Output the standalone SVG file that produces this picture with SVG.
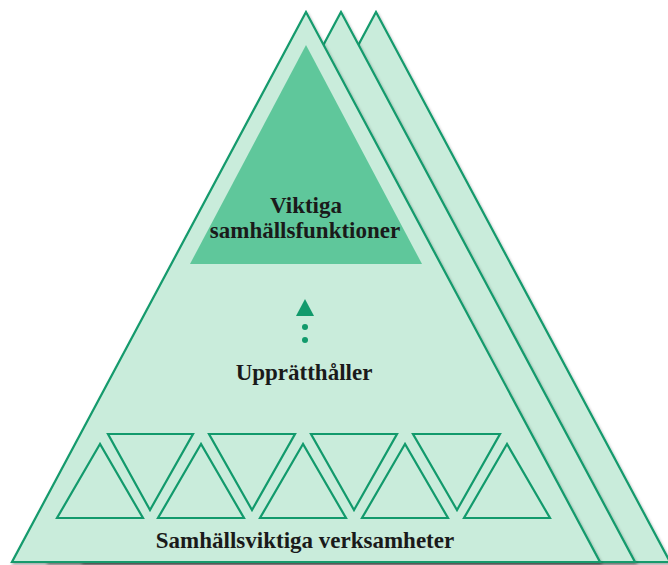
<svg xmlns="http://www.w3.org/2000/svg" width="668" height="565" viewBox="0 0 668 565">
  <defs>
    <filter id="sh" x="-10%" y="-10%" width="120%" height="120%">
      <feDropShadow dx="1" dy="2" stdDeviation="1.5" flood-color="#000" flood-opacity="0.35"/>
    </filter>
  </defs>
  <style>
    .big { fill: #c9ecdb; stroke: #129a6c; stroke-width: 2.2; stroke-linejoin: miter; }
    .inner { fill: #5fc79b; stroke: none; }
    .small { fill: none; stroke: #129a6c; stroke-width: 2.2; }
    .acc { fill: #129a6c; }
    text { font-family: "Liberation Serif", "DejaVu Serif", serif; font-weight: bold; fill: #1a1a1a; text-anchor: middle; font-size: 23px; }
  </style>
  <rect width="668" height="565" fill="#ffffff"/>
  <g id="layer3"><polygon class="big" filter="url(#sh)" points="376,12 82,562 670,562"/></g>
  <g id="layer2"><polygon class="big" filter="url(#sh)" points="341,12 47,562 635,562"/></g>
  <g id="layer1"><polygon class="big" filter="url(#sh)" points="306,12 12,562 600,562"/></g>
  <g id="functions">
    <polygon class="inner" points="306,45 190,264 422,264"/>
    <text x="306" y="213">Viktiga</text>
    <text x="305" y="238">samhällsfunktioner</text>
  </g>
  <g id="connectors">
    <polygon class="acc" points="305,299 296,316 314,316"/>
    <circle class="acc" cx="305" cy="327" r="3"/>
    <circle class="acc" cx="305" cy="340" r="3"/>
  </g>
  <g id="label-upprat">
    <text x="304" y="380">Upprätthåller</text>
  </g>
  <g id="activities">
    <polygon class="small" points="100,444 57,518 143,518"/>
    <polygon class="small" points="201,444 158,518 244,518"/>
    <polygon class="small" points="303,444 260,518 346,518"/>
    <polygon class="small" points="405,444 362,518 448,518"/>
    <polygon class="small" points="507,444 464,518 550,518"/>
    <polygon class="small" points="108,434 193,434 150,510"/>
    <polygon class="small" points="209,434 295,434 252,510"/>
    <polygon class="small" points="311,434 397,434 354,510"/>
    <polygon class="small" points="413,434 500,434 457,510"/>
    <text x="305" y="548">Samhällsviktiga verksamheter</text>
  </g>
</svg>
